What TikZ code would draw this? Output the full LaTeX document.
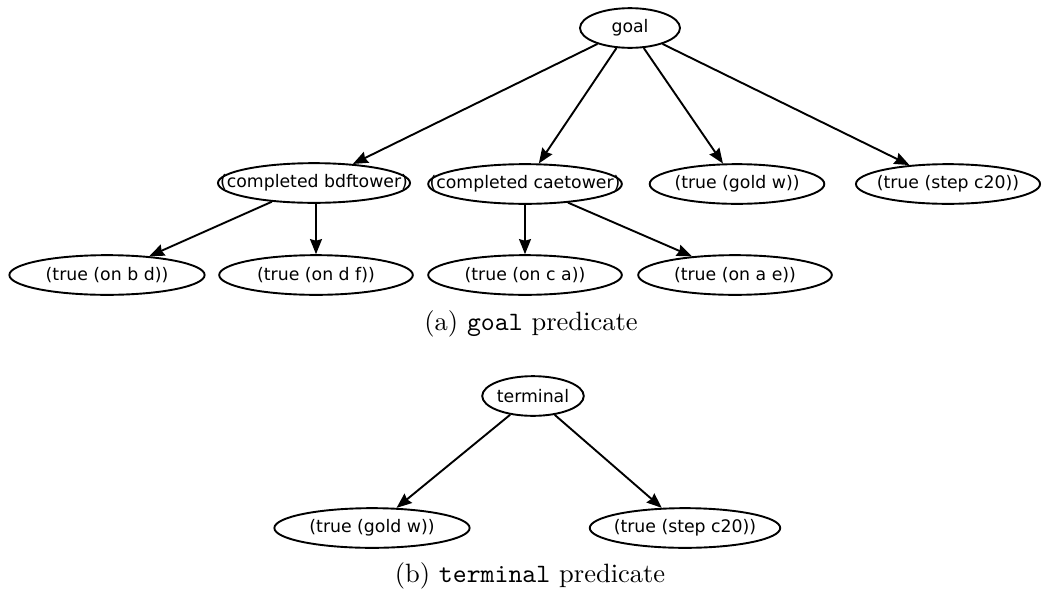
\documentclass[tikz,border=0pt]{standalone}
\usepackage{fontspec}
\usepackage{graphicx}
\usepackage{tikz}
\usetikzlibrary{shapes.geometric, arrows.meta}
\newfontfamily\dotfont{DejaVu Sans}
\newcommand{\lbl}[1]{\makebox[0pt]{#1}}
\tikzstyle{arrow} = [line width=1.2pt, -{Stealth[length=9.5pt, width=7.5pt, inset=1pt]}]

\begin{document}
\begin{tikzpicture}[x=0.63pt, y=-0.63pt, pred/.style={ellipse, draw, line width=1.2pt, inner sep=0pt, minimum height=25pt, font=\dotfont\fontsize{10.9}{12}\selectfont}, subcap/.style={inner sep=0pt}]
    \useasboundingbox (0,0) rectangle (1043,597);
    % (a) goal
    \node[pred, minimum width=63pt] (goal) at (630,28) {\lbl{goal}};
    \node[pred, minimum width=121pt] (bdf) at (314,183) {\lbl{(completed bdftower)}};
    \node[pred, minimum width=122pt] (cae) at (525,184) {\lbl{(completed caetower)}};
    \node[pred, minimum width=110pt] (gold) at (737,184) {\lbl{(true (gold w))}};
    \node[pred, minimum width=116pt] (step) at (948,184) {\lbl{(true (step c20))}};
    \node[pred, minimum width=123pt] (onbd) at (107,275) {\lbl{(true (on b d))}};
    \node[pred, minimum width=122pt] (ondf) at (316,275) {\lbl{(true (on d f))}};
    \node[pred, minimum width=122pt] (onca) at (525,275) {\lbl{(true (on c a))}};
    \node[pred, minimum width=122pt] (onae) at (735,275) {\lbl{(true (on a e))}};
    \draw[arrow] (goal) -- (bdf);
    \draw[arrow] (goal) -- (cae);
    \draw[arrow] (goal) -- (gold);
    \draw[arrow] (goal) -- (step);
    \draw[arrow] (bdf) -- (onbd);
    \draw[arrow] (bdf.south -| ondf.north) -- (ondf);
    \draw[arrow] (cae) -- (onca);
    \draw[arrow] (cae) -- (onae);
    \node[subcap] (capa) at (531,324) {\scalebox{1.67}{(a) \texttt{goal} predicate}};
    % (b) terminal
    \node[pred, minimum width=64pt] (term) at (533,396) {\lbl{terminal}};
    \node[pred, minimum width=123pt] (goldb) at (372,528) {\lbl{(true (gold w))}};
    \node[pred, minimum width=120pt] (stepb) at (685,528) {\lbl{(true (step c20))}};
    \draw[arrow] (term) -- (goldb);
    \draw[arrow] (term) -- (stepb);
    \node[subcap] (capb) at (530,576) {\scalebox{1.67}{(b) \texttt{terminal} predicate}};
\end{tikzpicture}
\end{document}
